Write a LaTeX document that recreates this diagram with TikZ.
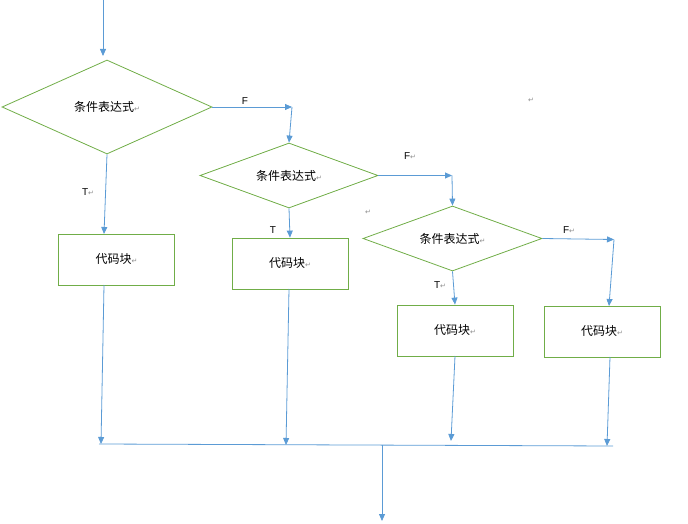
\documentclass[tikz,border=0pt]{standalone}
\usepackage{fontspec}
\newfontfamily\cjk{Noto Sans CJK SC}
\newfontfamily\lat{Liberation Sans}
\newfontfamily\sym{DejaVu Sans}
\usetikzlibrary{shapes.geometric,arrows.meta}
\definecolor{dgreen}{RGB}{112,173,71}
\definecolor{ablue}{RGB}{91,155,213}
\definecolor{pmgray}{RGB}{140,140,140}
\newcommand{\pmark}{{\color{pmgray}\sym\fontsize{7}{8}\selectfont ↵}}
\newcommand{\ctext}[1]{{\cjk\fontsize{12}{13}\selectfont #1}\pmark}
\begin{document}
\begin{tikzpicture}[x=1pt,y=-1pt,
  dia/.style={diamond, draw=dgreen, line width=0.8pt, inner sep=0pt, aspect=2.7},
  blk/.style={draw=dgreen, line width=0.8pt, minimum width=116pt, minimum height=51pt, inner sep=0pt},
  arr/.style={draw=ablue, line width=0.8pt, -{Triangle[width=6pt,length=7pt]}},
  ln/.style={draw=ablue, line width=0.8pt},
  lbl/.style={font=\lat\fontsize{10}{11}\selectfont, inner sep=0pt},
  pm/.style={inner sep=0pt}]
\useasboundingbox (0,0) rectangle (688,524);

% decisions
\node[dia, minimum width=210pt, minimum height=94pt] (d1) at (107,107) {\ctext{条件表达式}};
\node[dia, minimum width=178pt, minimum height=65pt] (d2) at (289,175.5) {\ctext{条件表达式}};
\node[dia, minimum width=179pt, minimum height=65pt] (d3) at (452.5,238.5) {\ctext{条件表达式}};

% blocks
\node[blk] (b1) at (116.5,259.5) {\ctext{代码块}};
\node[blk] (b2) at (290,263.5) {\ctext{代码块}};
\node[blk] (b3) at (455,330.5) {\ctext{代码块}};
\node[blk] (b4) at (602,331.5) {\ctext{代码块}};

% coordinates
\coordinate (s0) at (103,0);
\coordinate (e0) at (103,56);
\coordinate (f1) at (292,107);
\coordinate (f2) at (452,175.5);
\coordinate (f3) at (614,239.5);
\coordinate (t1) at (104,234);
\coordinate (t4) at (609,306);
\coordinate (o1) at (104,285);
\coordinate (o2) at (289,289);
\coordinate (o3) at (455,356);
\coordinate (o4) at (610,357);
\coordinate (i1) at (101,444);
\coordinate (i2) at (286,445);
\coordinate (i3) at (451,441);
\coordinate (i4) at (607,446);
\coordinate (hl) at (99,444);
\coordinate (hr) at (613,446);
\coordinate (hm) at (382,445);
\coordinate (ex) at (382,521);

% connectors
\draw[arr] (s0) -- (e0);
\draw[arr] (d1.east) -- (f1);
\draw[arr] (f1) -- (d2.north);
\draw[arr] (d1.south) -- (t1);
\draw[arr] (d2.south) -- (b2.north);
\draw[arr] (d2.east) -- (f2);
\draw[arr] (f2) -- (d3.north);
\draw[arr] (d3.south) -- (b3.north);
\draw[arr] (d3.east) -- (f3);
\draw[arr] (f3) -- (t4);
\draw[arr] (o1) -- (i1);
\draw[arr] (o2) -- (i2);
\draw[arr] (o3) -- (i3);
\draw[arr] (o4) -- (i4);
\draw[ln] (hl) -- (hr);
\draw[arr] (hm) -- (ex);

% labels
\node[lbl] (lf1) at (245,101) {F};
\node[lbl] (lt1) at (88,192) {T\pmark};
\node[lbl] (lt2) at (273,230) {T};
\node[lbl] (lf2) at (410,156) {F\pmark};
\node[lbl] (lt3) at (440,285) {T\pmark};
\node[lbl] (lf3) at (569,230) {F\pmark};
\node[pm] (p1) at (531,100) {\pmark};
\node[pm] (p2) at (368,212) {\pmark};
\end{tikzpicture}
\end{document}
